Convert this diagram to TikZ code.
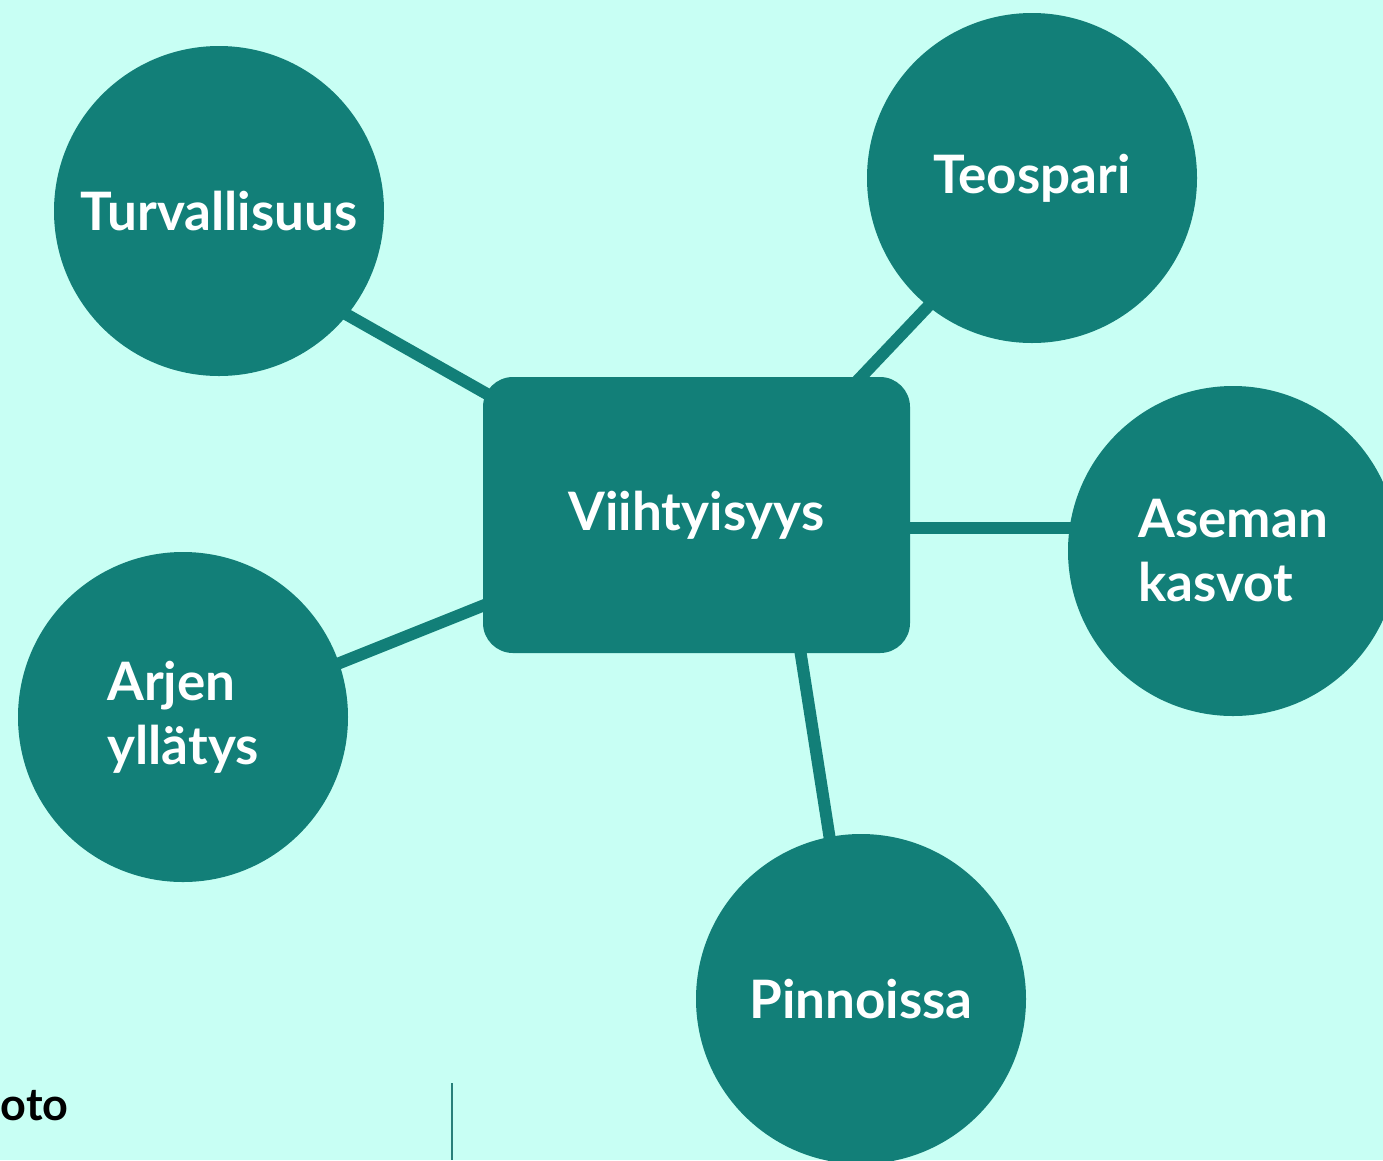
\documentclass[tikz,border=0pt]{standalone}
\usepackage{fontspec}
\setmainfont{Lato}
\usetikzlibrary{backgrounds}
\definecolor{mint}{RGB}{200,255,244}
\definecolor{tealdark}{RGB}{18,127,120}
\tikzset{
	topic/.style={circle, fill=tealdark, minimum size=330pt, inner sep=0pt, text=white, align=left, font=\bfseries\fontsize{53}{64}\selectfont},
	hub/.style={rectangle, rounded corners=30pt, fill=tealdark, minimum width=427pt, minimum height=276pt, text=white, font=\bfseries\fontsize{53}{64}\selectfont},
	link/.style={line width=12pt, tealdark, shorten <=-8pt, shorten >=-15pt},
}

\begin{document}
\begin{tikzpicture}[x=1pt, y=-1pt]
	\useasboundingbox (0,0) rectangle (1383,1160);
	\clip (0,0) rectangle (1383,1160);
	
	\node[hub] (viih) at (696.5,515) {Viihtyisyys};
	\node[topic] (turv) at (219,211) {Turvallisuus};
	\node[topic] (teos) at (1032,178) {Teospari};
	\node[topic] (asem) at (1233,551) {Aseman\\kasvot};
	\node[topic] (arje) at (183,717) {Arjen\\yllätys};
	\node[topic] (pinn) at (861,999) {Pinnoissa};
	
	\node[anchor=base west, font=\bfseries\fontsize{45}{54}\selectfont] (oto) at (-3,1120) {oto};
	\draw[tealdark!80!gray, line width=2pt] (452,1083) -- (452,1160);
	
	\begin{pgfonlayer}{background}
		\fill[mint] (0,0) rectangle (1383,1160);
		\draw[link] (turv.321.7) -- (viih.150);
		\draw[link] (teos.231.7) -- (viih.40.9);
		\draw[link] (asem.172.3) -- (asem.172.3 -| viih.east);
		\draw[link] (arje.19.3) -- (viih.203);
		\draw[link] (pinn.101) -- (viih.307.7);
	\end{pgfonlayer}
\end{tikzpicture}
\end{document}
